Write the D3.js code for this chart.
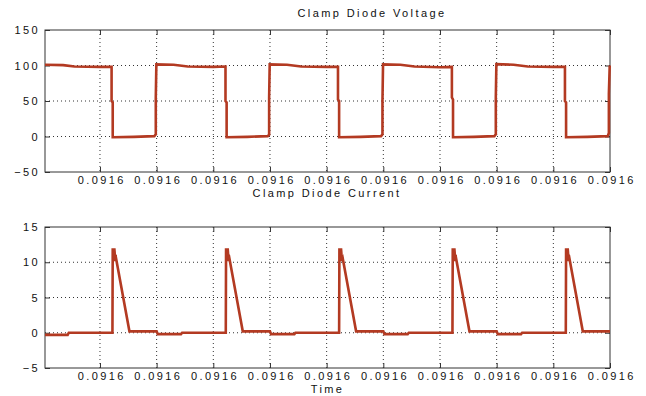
<!DOCTYPE html>
<head>
	<meta charset="utf-8">
	<title>Clamp Diode Voltage / Current</title>
	<script src="https://d3js.org/d3.v7.min.js"></script>
	<style>
		body{
			margin: 0;
			background-color: white;
		}
		/*all text in the figure*/
		text{
			font-family: 'Liberation Sans', Arial, sans-serif;
			font-size: 11px;
			fill: #111;
			letter-spacing: 2.4px;
		}
		.grid{
			stroke: #333;
			stroke-width: 1;
			stroke-dasharray: 1,3;
		}
		.tick line{
			stroke: #333;
		}
	</style>
</head>
<body>
	<div id="chart"></div>

	<script>
		var width = 646;
		var height = 396;

		//x is in tick units, every tick is labelled 0.0916 (rounded time)
		var xTicks = [1, 2, 3, 4, 5, 6, 7, 8, 9, 10];
		var xTickLabels = ["0.0916", "0.0916", "0.0916", "0.0916", "0.0916",
			"0.0916", "0.0916", "0.0916", "0.0916", "0.0916"];

		var voltageTicks = [-50, 0, 50, 100, 150];
		var currentTicks = [-5, 0, 5, 10, 15];

		//voltage trace
		var voltageTime = [
			0.03, 0.35, 0.55, 1.0, 1.205, 1.205, 1.225, 1.225, 1.6, 1.96, 1.985, 1.985, 1.995,
			2.3, 2.55, 3.0, 3.215, 3.215, 3.235, 3.235, 3.6, 3.96, 3.985, 3.985, 3.995,
			4.3, 4.55, 5.0, 5.2, 5.2, 5.22, 5.22, 5.6, 5.96, 5.985, 5.985, 5.995,
			6.3, 6.55, 7.0, 7.21, 7.21, 7.23, 7.23, 7.6, 7.96, 7.985, 7.985, 7.995,
			8.3, 8.55, 9.0, 9.205, 9.205, 9.225, 9.225, 9.6, 9.96, 9.98, 9.98, 9.995];
		var voltageValue = [
			101, 100.5, 98.5, 98, 98, 50, 48, -1, -0.5, 0.5, 3, 55, 101.5,
			101, 98.5, 98, 98.5, 50, 48, -1, -0.5, 0.5, 2.5, 55, 101.5,
			101, 98.5, 98, 98, 52, 50, -1, -0.5, 0.5, 3, 50, 101.5,
			101, 98.5, 97.5, 98, 55, 52, -1, -0.5, 0.5, 3, 55, 102,
			101, 98.5, 98, 98, 50, 48, -1, -0.5, 0.5, 5, 60, 100];

		//current trace
		var currentTime = [
			0.03, 0.43, 0.45,
			1.22, 1.225, 1.255, 1.27, 1.285, 1.52, 2.0, 2.02, 2.43, 2.45,
			3.22, 3.225, 3.255, 3.27, 3.285, 3.52, 4.0, 4.02, 4.43, 4.45,
			5.22, 5.225, 5.255, 5.27, 5.285, 5.52, 6.0, 6.02, 6.43, 6.45,
			7.22, 7.225, 7.255, 7.27, 7.285, 7.52, 8.0, 8.02, 8.43, 8.45,
			9.22, 9.225, 9.255, 9.27, 9.285, 9.52, 10.0];
		var currentValue = [
			-0.3, -0.3, 0,
			0, 11.8, 11.8, 10.2, 10.5, 0.2, 0.2, -0.2, -0.2, 0,
			0, 11.8, 11.8, 10.2, 10.5, 0.2, 0.2, -0.2, -0.2, 0,
			0, 11.8, 11.8, 10.2, 10.5, 0.2, 0.2, -0.2, -0.2, 0,
			0, 11.8, 11.8, 10.2, 10.5, 0.2, 0.2, -0.2, -0.2, 0,
			0, 11.8, 11.8, 10.2, 10.5, 0.2, 0.2];

		var lineColor = "#b33a22";

		var svg = d3.select("#chart").append("svg")
			.attr("width", width)
			.attr("height", height);

		var x = d3.scaleLinear().domain([0.03, 10]).range([45, 610]);

		//draws one matlab style axes box with grid, ticks and a trace
		function drawPanel(top, bottom, yTicks, times, values, title, titleX, titleY, xLabel){
			var y = d3.scaleLinear()
				.domain([yTicks[0], yTicks[yTicks.length - 1]])
				.range([bottom, top]);

			var g = svg.append("g");

			//dotted grid
			g.selectAll(".vgrid").data(xTicks.slice(0, -1)).enter().append("line")
				.attr("class", "grid")
				.attr("x1", function(d){ return x(d); })
				.attr("x2", function(d){ return x(d); })
				.attr("y1", top)
				.attr("y2", bottom);
			g.selectAll(".hgrid").data(yTicks.slice(1, -1)).enter().append("line")
				.attr("class", "grid")
				.attr("x1", x.range()[0])
				.attr("x2", x.range()[1])
				.attr("y1", function(d){ return y(d); })
				.attr("y2", function(d){ return y(d); });

			//axes with inward ticks
			var bottomAxis = g.append("g")
				.attr("transform", "translate(0," + bottom + ")")
				.call(d3.axisBottom(x).tickValues(xTicks)
					.tickFormat(function(d, i){ return xTickLabels[i]; })
					.tickSizeInner(-5).tickSizeOuter(0).tickPadding(4));
			g.append("g")
				.attr("transform", "translate(0," + top + ")")
				.call(d3.axisTop(x).tickValues(xTicks).tickFormat("")
					.tickSizeInner(-5).tickSizeOuter(0));
			g.append("g")
				.attr("transform", "translate(" + x.range()[0] + ",0)")
				.call(d3.axisLeft(y).tickValues(yTicks)
					.tickSizeInner(-5).tickSizeOuter(0).tickPadding(5));
			g.append("g")
				.attr("transform", "translate(" + x.range()[1] + ",0)")
				.call(d3.axisRight(y).tickValues(yTicks).tickFormat("")
					.tickSizeInner(-5).tickSizeOuter(0));

			g.selectAll(".domain").remove();
			g.selectAll(".tick text")
				.attr("font-family", null)
				.attr("font-size", null)
				.attr("fill", null);
			bottomAxis.selectAll(".tick text").attr("dx", "1.2px");

			//box around the axes
			g.append("rect")
				.attr("x", x.range()[0])
				.attr("y", top)
				.attr("width", x.range()[1] - x.range()[0])
				.attr("height", bottom - top)
				.attr("fill", "none")
				.attr("stroke", "#333")
				.attr("stroke-width", 1);

			//the trace
			var line = d3.line()
				.x(function(d, i){ return x(times[i]); })
				.y(function(d){ return y(d); });
			g.append("path")
				.attr("d", line(values))
				.attr("fill", "none")
				.attr("stroke", lineColor)
				.attr("stroke-width", 2.6);

			g.append("text")
				.attr("x", titleX)
				.attr("y", titleY)
				.attr("text-anchor", "middle")
				.text(title);

			if(xLabel){
				g.append("text")
					.attr("x", (x.range()[0] + x.range()[1]) / 2)
					.attr("y", bottom + 25)
					.attr("text-anchor", "middle")
					.text(xLabel);
			}
		}

		drawPanel(30, 172, voltageTicks, voltageTime, voltageValue, "Clamp Diode Voltage", 372, 17, null);
		drawPanel(227, 368, currentTicks, currentTime, currentValue, "Clamp Diode Current", 327, 197, "Time");
	</script>
</body>
